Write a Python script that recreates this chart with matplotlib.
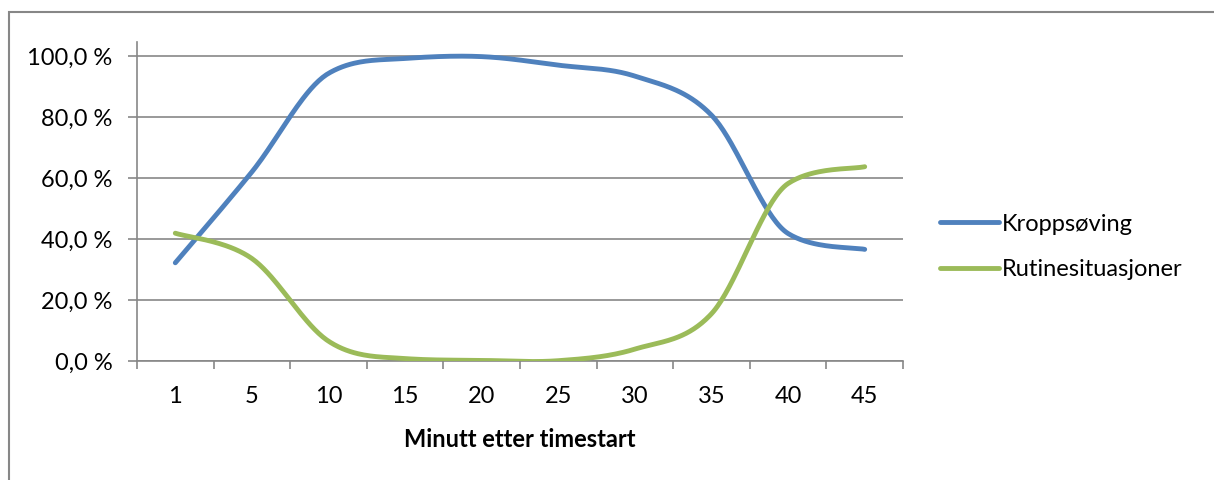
import numpy as np
import matplotlib
matplotlib.use('Agg')
import matplotlib.pyplot as plt
from matplotlib.patches import Rectangle

plt.rcParams['font.family'] = ['Lato', 'DejaVu Sans']

# Andel av elevene (%) per minutt etter timestart
minutter = ['1', '5', '10', '15', '20', '25', '30', '35', '40', '45']
kroppsoving = [32.2, 62.0, 94.3, 99.2, 99.8, 97.0, 93.4, 80.6, 41.8, 36.6]
rutine = [41.9, 33.6, 6.5, 0.8, 0.2, 0.1, 3.9, 15.5, 58.2, 63.7]

BLUE = '#4F81BD'
GREEN = '#9BBB59'
GRID = '#878787'


def glatt(x, y, n=40):
    # Bezier-glatting gjennom punktene; y-delen av tangenten begrenses så kurven ikke skyter over
    x = np.asarray(x, float)
    y = np.asarray(y, float)
    px = np.concatenate([[x[0]], x, [x[-1]]])
    py = np.concatenate([[y[0]], y, [y[-1]]])
    tx = (px[2:] - px[:-2]) / 2
    ty = (py[2:] - py[:-2]) / 2
    d = np.diff(y)
    for i in range(1, len(y) - 1):
        if d[i - 1] * d[i] > 0:
            lim = 3 * min(abs(d[i - 1]), abs(d[i]))
            ty[i] = np.clip(ty[i], -lim, lim)
    t = np.linspace(0, 1, n)[:, None]
    pts = []
    for i in range(len(x) - 1):
        p0 = np.array([x[i], y[i]])
        p3 = np.array([x[i + 1], y[i + 1]])
        p1 = p0 + np.array([tx[i], ty[i]]) / 3
        p2 = p3 - np.array([tx[i + 1], ty[i + 1]]) / 3
        pts.append((1 - t) ** 3 * p0 + 3 * (1 - t) ** 2 * t * p1 + 3 * (1 - t) * t ** 2 * p2 + t ** 3 * p3)
    pts = np.vstack(pts)
    return pts[:, 0], pts[:, 1]


fig = plt.figure(figsize=(12.14, 4.8), dpi=100)
W, H = 1214, 480
ax = fig.add_axes([137 / W, 1 - 361 / H, (903 - 137) / W, (361 - 42) / H])

pos = np.arange(len(minutter))
for verdier, farge, navn in [(kroppsoving, BLUE, 'Kroppsøving'), (rutine, GREEN, 'Rutinesituasjoner')]:
    gx, gy = glatt(pos, verdier)
    ax.plot(gx, gy, color=farge, lw=3.5, solid_capstyle='round', label=navn, zorder=3)

ax.set_xlim(-0.5, len(minutter) - 0.5)
ax.set_ylim(0, 100 * (361 - 42) / (361 - 56))
ax.set_yticks(np.arange(0, 101, 20))
ax.set_yticklabels([f'{v:.1f} %'.replace('.', ',') for v in range(0, 101, 20)])
ax.set_xticks(pos)
ax.set_xticklabels(minutter)
ax.set_xticks(np.arange(-0.5, len(minutter), 1), minor=True)

ax.grid(axis='y', color=GRID, lw=1.2)
ax.set_axisbelow(True)
for s in ['top', 'right']:
    ax.spines[s].set_visible(False)
for s in ['left', 'bottom']:
    ax.spines[s].set_color(GRID)
    ax.spines[s].set_linewidth(1.2)

FS = 17
ax.tick_params(axis='x', which='major', length=0, pad=18, labelsize=FS)
ax.tick_params(axis='x', which='minor', length=5.5, width=1.2, color=GRID)
ax.tick_params(axis='y', length=6.5, width=1.2, color=GRID, pad=11, labelsize=FS)

ax.set_xlabel('Minutt etter timestart', fontweight='bold', fontsize=FS, labelpad=15)

ax.legend(loc='center left', bbox_to_anchor=(940 / W, 1 - 247 / H), bbox_transform=fig.transFigure,
          frameon=False, fontsize=FS, handlelength=2.5, handletextpad=0.12, labelspacing=1.05,
          borderaxespad=0, borderpad=0)

# ramme rundt diagrammet
fig.patches.append(Rectangle((8.5 / W, -0.1), 1.2, 1 - 11.5 / H + 0.1, transform=fig.transFigure,
                             fill=False, edgecolor=GRID, lw=1.5))

fig.savefig('out.png', dpi=100)
